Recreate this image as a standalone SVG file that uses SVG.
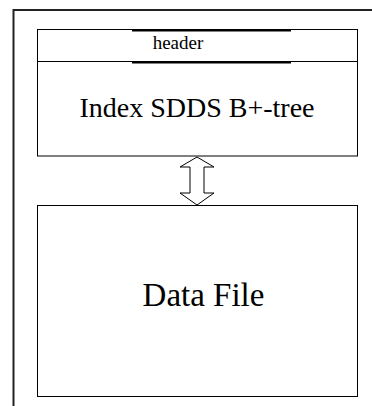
<svg xmlns="http://www.w3.org/2000/svg" width="372" height="406" viewBox="0 0 372 406">
<style>
.box{fill:#fff;stroke:#000;stroke-width:1}
.frame{fill:none;stroke:#222;stroke-width:2}
.thick{stroke:#000;stroke-width:2}
</style>
<rect width="372" height="406" fill="#fff"/>
<path class="frame" d="M13.5,406 V10 H372"/>
<g id="index">
<rect class="box" x="37.5" y="29.5" width="320" height="126.5"/>
<line x1="37.5" y1="61.5" x2="357.5" y2="61.5" stroke="#000" stroke-width="1"/>
<line class="thick" x1="132" y1="30.5" x2="291" y2="30.5"/>
<line class="thick" x1="132" y1="62.5" x2="291" y2="62.5"/>
<text x="178" y="49" font-family="Liberation Serif, serif" font-size="19" text-anchor="middle" fill="#000">header</text>
<text x="197" y="117" font-family="Liberation Serif, serif" font-size="28" text-anchor="middle" fill="#000">Index SDDS B+-tree</text>
</g>
<g id="data">
<rect class="box" x="37.5" y="205.5" width="320" height="191"/>
<text x="203.5" y="306" font-family="Liberation Serif, serif" font-size="33" text-anchor="middle" fill="#000">Data File</text>
</g>
<g id="connectors">
<polygon points="197,157 214,167 204,167 204,193 214,193 197,205 180,193 190,193 190,167 180,167" fill="#fff" stroke="#000" stroke-width="1"/>
</g>
</svg>
